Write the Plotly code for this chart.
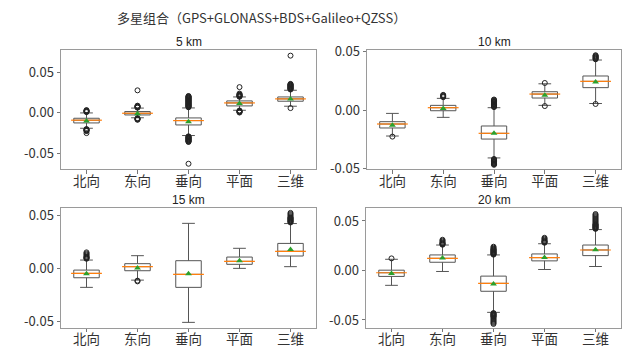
import plotly.graph_objects as go

# ---------------- data ----------------
CATEGORIES = ["北向", "东向", "垂向", "平面", "三维"]
PANEL_TITLES = ["5 km", "10 km", "15 km", "20 km"]
MAIN_TITLE = "多星组合（GPS+GLONASS+BDS+Galileo+QZSS）"
TICK_VALS = [-0.05, 0.0, 0.05]
TICK_TEXT = ["-0.05", "0.00", "0.05"]

# per panel (5, 10, 15, 20 km), per category
Q1 = [
    [-0.0124, -0.0025, -0.0149, 0.0087, 0.0145],
    [-0.0154, -0.0006, -0.0249, 0.0103, 0.0192],
    [-0.0088, -0.0022, -0.0178, 0.0038, 0.0116],
    [-0.0060, 0.0083, -0.0210, 0.0097, 0.0150],
]
MEDIAN = [
    [-0.0090, -0.0004, -0.0095, 0.0124, 0.0174],
    [-0.0120, 0.0020, -0.0200, 0.0137, 0.0246],
    [-0.0047, 0.0016, -0.0056, 0.0066, 0.0160],
    [-0.0023, 0.0123, -0.0130, 0.0130, 0.0207],
]
Q3 = [
    [-0.0066, 0.0017, -0.0062, 0.0149, 0.0198],
    [-0.0100, 0.0040, -0.0137, 0.0157, 0.0292],
    [-0.0016, 0.0044, 0.0072, 0.0106, 0.0234],
    [0.0003, 0.0157, -0.0057, 0.0167, 0.0257],
]
MEAN = [
    [-0.0099, -0.0010, -0.0110, 0.0116, 0.0174],
    [-0.0131, 0.0014, -0.0200, 0.0126, 0.0240],
    [-0.0050, 0.0003, -0.0050, 0.0072, 0.0178],
    [-0.0030, 0.0127, -0.0137, 0.0130, 0.0210],
]
WHISKER_LO = [
    [-0.0190, -0.0060, -0.0280, 0.0033, 0.0083],
    [-0.0223, -0.0063, -0.0411, 0.0040, 0.0056],
    [-0.0178, -0.0110, -0.0506, 0.0000, 0.0016],
    [-0.0150, -0.0010, -0.0423, 0.0010, 0.0040],
]
WHISKER_HI = [
    [0.0000, 0.0060, 0.0062, 0.0198, 0.0281],
    [-0.0029, 0.0100, 0.0020, 0.0225, 0.0429],
    [0.0078, 0.0119, 0.0422, 0.0188, 0.0420],
    [0.0113, 0.0257, 0.0157, 0.0270, 0.0413],
]
OUTLIERS = [
    [  # 5 km
        [0.001, 0.0015, 0.002, 0.0025, 0.003, 0.0035,
         -0.020, -0.0205, -0.021, -0.0215, -0.022, -0.0225, -0.025],
        [0.0065, 0.007, 0.0075, 0.008, 0.0085, 0.009, 0.028,
         -0.0065, -0.007, -0.0075, -0.008, -0.0085],
        [0.007, 0.0075, 0.008, 0.0085, 0.009, 0.0095, 0.010, 0.0105, 0.011, 0.0115,
         0.012, 0.0125, 0.013, 0.0135, 0.014, 0.0145, 0.015, 0.0155, 0.016, 0.0165,
         0.017, 0.0175, 0.018, 0.0185, 0.019, 0.0195, 0.020, 0.0205, 0.021,
         -0.029, -0.0295, -0.030, -0.0305, -0.031, -0.0315, -0.032, -0.0325,
         -0.033, -0.0335, -0.034, -0.0345, -0.035, -0.0355, -0.036, -0.063],
        [0.020, 0.0205, 0.021, 0.0215, 0.022, 0.0225, 0.023, 0.024, 0.032,
         0.003, 0.0025, 0.002, 0.0015, 0.001, 0.0005],
        [0.029, 0.0295, 0.030, 0.0305, 0.031, 0.0315, 0.032, 0.0325, 0.033,
         0.0335, 0.034, 0.0345, 0.035, 0.0355, 0.036, 0.071, 0.006],
    ],
    [  # 10 km
        [-0.0228],
        [0.011, 0.0115, 0.012, 0.0125, 0.013],
        [0.0025, 0.003, 0.0035, 0.004, 0.0045, 0.005, 0.0055, 0.006, 0.0065,
         0.007, 0.0075, 0.008, 0.0085, 0.009,
         -0.042, -0.0425, -0.043, -0.0435, -0.044, -0.0445, -0.045, -0.0455,
         -0.046, -0.0465, -0.047],
        [0.0232, 0.0034],
        [0.0435, 0.044, 0.0445, 0.045, 0.0455, 0.046, 0.0465, 0.047, 0.0052],
    ],
    [  # 15 km
        [0.009, 0.0095, 0.010, 0.0105, 0.011, 0.012, 0.013, 0.014, 0.015],
        [-0.0115, -0.0122],
        [],
        [],
        [0.043, 0.0435, 0.044, 0.0445, 0.045, 0.0455, 0.046, 0.0465, 0.047,
         0.0475, 0.048, 0.049, 0.050, 0.051, 0.052],
    ],
    [  # 20 km
        [0.0122],
        [0.026, 0.0265, 0.027, 0.0275, 0.028, 0.029, 0.030, 0.031],
        [0.016, 0.0165, 0.017, 0.0175, 0.018, 0.0185, 0.019, 0.0195, 0.020,
         0.0205, 0.021, 0.0215, 0.022, 0.023, 0.024,
         -0.043, -0.0435, -0.044, -0.0445, -0.045, -0.0455, -0.046, -0.0465,
         -0.047, -0.048, -0.049, -0.050, -0.051, -0.052, -0.053, -0.054],
        [0.028, 0.0285, 0.029, 0.0295, 0.030, 0.031, 0.032, 0.033],
        [0.042, 0.0425, 0.043, 0.0435, 0.044, 0.0445, 0.045, 0.0455, 0.046,
         0.0465, 0.047, 0.048, 0.049, 0.050, 0.051, 0.052, 0.053, 0.054,
         0.055, 0.056, 0.057],
    ],
]
Y_RANGES = [[-0.0695, 0.078], [-0.0506, 0.0515], [-0.0556, 0.0563], [-0.0578, 0.0628]]

# ---------------- layout geometry ----------------
W, H = 638, 364
X_DOMAINS = [[61 / W, 316 / W], [367 / W, 621 / W], [61 / W, 316 / W], [366 / W, 621 / W]]
Y_DOMAINS = [[1 - 169 / H, 1 - 50 / H], [1 - 169 / H, 1 - 50 / H],
             [1 - 327.7 / H, 1 - 208.3 / H], [1 - 327.7 / H, 1 - 208.3 / H]]
TITLE_POS = [(188.5, 42), (494, 42), (188.5, 200), (494, 200)]

CJK = "Noto Sans CJK SC"
BOX_COLOR = "#555555"
FRAME = "#9a9a9a"

fig = go.Figure()
for i in range(4):
    xa = "x" if i == 0 else f"x{i+1}"
    ya = "y" if i == 0 else f"y{i+1}"
    fig.add_trace(go.Box(
        x=CATEGORIES, q1=Q1[i], median=MEDIAN[i], q3=Q3[i],
        lowerfence=WHISKER_LO[i], upperfence=WHISKER_HI[i],
        boxpoints=False, width=0.5, whiskerwidth=0.5,
        fillcolor="white", line=dict(color=BOX_COLOR, width=1),
        xaxis=xa, yaxis=ya, showlegend=False, hoverinfo="skip",
    ))
    ox, oy = [], []
    for c, vals in zip(CATEGORIES, OUTLIERS[i]):
        ox += [c] * len(vals)
        oy += vals
    fig.add_trace(go.Scatter(
        x=ox, y=oy, mode="markers", xaxis=xa, yaxis=ya, showlegend=False,
        marker=dict(symbol="circle-open", size=5, color="#222222", line=dict(width=1)),
        hoverinfo="skip",
    ))
    fig.add_trace(go.Scatter(
        x=CATEGORIES, y=MEDIAN[i], mode="markers", xaxis=xa, yaxis=ya, showlegend=False,
        marker=dict(symbol="line-ew-open", size=22, color="#ff7f0e", line=dict(width=1.2, color="#ff7f0e")),
        hoverinfo="skip",
    ))
    fig.add_trace(go.Scatter(
        x=CATEGORIES, y=MEAN[i], mode="markers", xaxis=xa, yaxis=ya, showlegend=False,
        marker=dict(symbol="triangle-up", size=6, color="#2ca02c"),
        hoverinfo="skip",
    ))

layout = dict(
    width=W, height=H, autosize=False,
    margin=dict(l=0, r=0, t=0, b=0, pad=0, autoexpand=False),
    paper_bgcolor="white", plot_bgcolor="white", showlegend=False,
    font=dict(family=CJK, size=13, color="#222222"),
)
for i in range(4):
    sx = "" if i == 0 else str(i + 1)
    layout["xaxis" + sx] = dict(
        domain=X_DOMAINS[i], anchor="y" + sx, type="category", automargin=False,
        categoryorder="array", categoryarray=CATEGORIES, range=[-0.5, 4.5],
        showline=True, mirror=True, linecolor=FRAME, linewidth=1,
        ticks="outside", ticklen=3.5, tickcolor="#777777", showgrid=False, zeroline=False,
        ticklabelstandoff=-4,
        tickfont=dict(family=CJK, size=13.5, color="#333333"),
    )
    layout["yaxis" + sx] = dict(
        domain=Y_DOMAINS[i], anchor="x" + sx, range=Y_RANGES[i], automargin=False,
        tickvals=TICK_VALS, ticktext=TICK_TEXT,
        showline=True, mirror=True, linecolor=FRAME, linewidth=1,
        ticks="outside", ticklen=3.5, tickcolor="#777777", showgrid=False, zeroline=False,
        tickfont=dict(family=CJK, size=13, color="#333333"),
    )

annotations = [dict(
    text=MAIN_TITLE, x=261 / W, y=1 - 17 / H, xref="paper", yref="paper",
    xanchor="center", yanchor="middle", showarrow=False,
    font=dict(family=CJK, size=13, color="#333333"),
)]
for t, (px, py) in zip(PANEL_TITLES, TITLE_POS):
    annotations.append(dict(
        text=t, x=px / W, y=1 - py / H, xref="paper", yref="paper",
        xanchor="center", yanchor="middle", showarrow=False,
        font=dict(family="Liberation Sans", size=12, color="#222222"),
    ))
layout["annotations"] = annotations
fig.update_layout(**layout)

fig.write_html("out.html", config={"displayModeBar": False},
               post_script="document.body.style.margin='0';")
